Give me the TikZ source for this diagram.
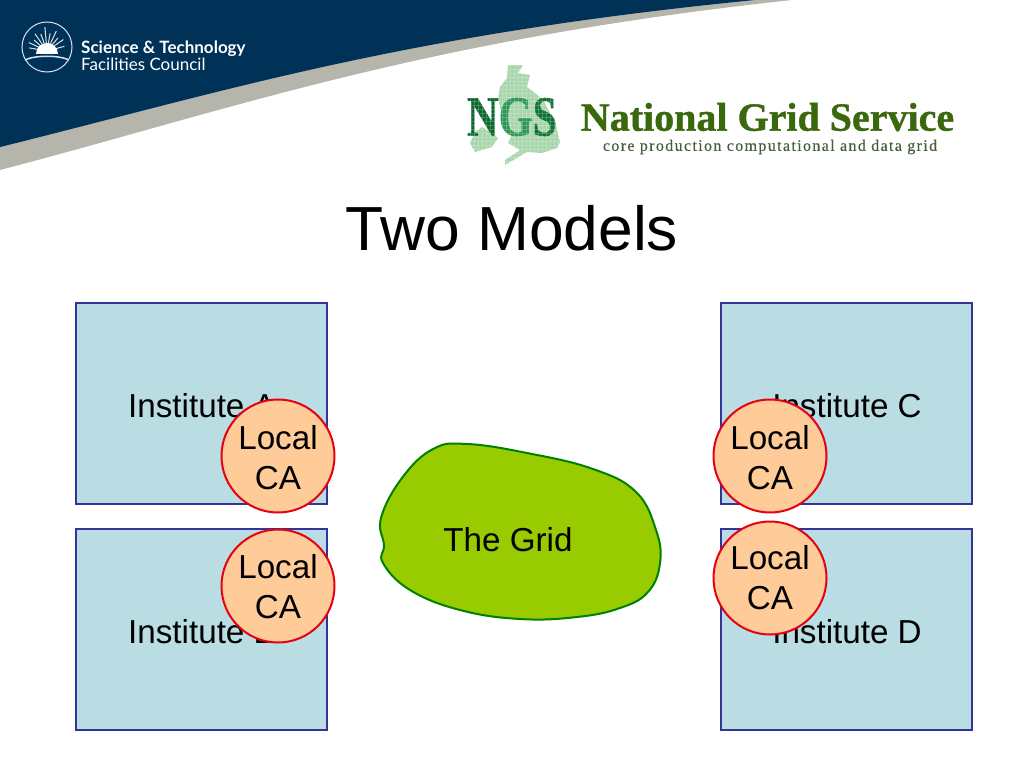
\documentclass[tikz,border=0pt]{standalone}
\usepackage{fontspec}
\setmainfont{Liberation Sans}
\newfontfamily\logofont{Lato}
\newfontfamily\ngsfont{Liberation Serif}
\definecolor{banner navy}{RGB}{0,50,88}
\definecolor{banner grey}{RGB}{181,181,171}
\definecolor{box fill}{RGB}{185,221,226}
\definecolor{box line}{RGB}{51,51,153}
\definecolor{ca fill}{RGB}{255,204,153}
\definecolor{ca line}{RGB}{230,0,20}
\definecolor{grid fill}{RGB}{153,204,0}
\definecolor{grid line}{RGB}{0,128,0}
\definecolor{map green}{RGB}{168,214,170}
\definecolor{ngs green}{RGB}{10,105,45}
\definecolor{ngs light}{RGB}{45,150,85}
\definecolor{title green}{RGB}{58,104,12}
\definecolor{sub green}{RGB}{72,92,62}
\definecolor{ray col}{RGB}{217,226,236}

\begin{document}
\begin{tikzpicture}[x=1pt,y=-1pt,
			institute/.style={draw=box line,fill=box fill,line width=2pt,minimum width=251pt,minimum height=201pt,inner sep=0pt},
			labeltext/.style={font=\fontsize{33.2}{40}\selectfont,align=center,inner sep=0pt},
			localca/.style={circle,draw=ca line,fill=ca fill,line width=2pt,minimum size=113pt,inner sep=0pt,font=\fontsize{33.2}{40}\selectfont,align=center},
			ray/.style={ray col,line width=1pt}
			]
		\useasboundingbox (0,0) rectangle (1024,768);
		% banner
		\fill[banner grey] (0,0) -- (0,170) .. controls (230,110) and (420,40) .. (792,0) -- cycle;
		\fill[banner navy] (0,0) -- (0,147) .. controls (230,90) and (400,35) .. (755,0) -- cycle;
		% STFC logo
		\node[circle,draw=ray col,line width=1pt,minimum size=50pt,inner sep=0pt] (sun) at (47,47) {};
		\foreach \ang/\len in {15/18,35/20,50/17,65/22,80/18,95/24,110/18,125/21,140/17,155/20,170/18}
			\draw[ray] (47,51) -- ++(-\ang:\len);
		\fill[white] (36,54) arc[start angle=180,end angle=360,radius=11] -- cycle;
		\draw[ray,line width=1.5pt] (25,60) .. controls (35,55) and (59,55) .. (69,60);
		\node[anchor=west,inner sep=0pt,text=white,align=left,font=\logofont\fontsize{17}{16.5}\selectfont] (stfc) at (81,56) {\textbf{Science \& Technology}\\Facilities Council};
		% NGS logo
		\fill[map green] (508,65) -- (523,65) -- (518,73) -- (530,75) -- (527,87) -- (535,93) -- (543,100) -- (555,122) -- (560,142) -- (557,148) -- (542,153) -- (527,152) -- (505,165) -- (505,160) -- (520,150) -- (508,143) -- (513,132) -- (502,115) -- (498,98) -- (500,87) -- (507,78) -- cycle;
		\fill[map green] (470,143) -- (475,132) -- (482,127) -- (492,133) -- (498,138) -- (492,147) -- (475,152) -- cycle;
		\node[inner sep=0pt,font=\ngsfont\bfseries\fontsize{46}{46}\selectfont] (ngs) at (512,117) {\scalebox{0.95}[1.23]{\addfontfeature{FakeBold=1}\textcolor{ngs green}{N}\textcolor{ngs light}{G}\textcolor{ngs green!80!ngs light}{S}}};
		\foreach \xx in {466,470,...,562} \draw[white,opacity=0.2,line width=0.5pt] (\xx,65) -- (\xx,165);
		\foreach \yy in {65,69,...,165} \draw[white,opacity=0.2,line width=0.5pt] (466,\yy) -- (562,\yy);
		\node[inner sep=0pt,text=title green,font=\ngsfont\bfseries\fontsize{40}{40}\selectfont] (ngstitle) at (767.5,117) {\addfontfeature{FakeBold=1}National Grid Service};
		\node[inner sep=0pt,text=sub green,font=\ngsfont\fontsize{16}{16}\selectfont] (ngssub) at (770,147) {\addfontfeature{LetterSpace=8.5,FakeBold=0.4}core production computational and data grid};
		% title
		\node[inner sep=0pt,font=\fontsize{62.3}{62}\selectfont] (title) at (512,228) {Two Models};
		% institutes
		\node[institute] (insta) at (201.5,403.5) {};
		\node[institute] (instb) at (201.5,629.5) {};
		\node[institute] (instc) at (846.5,403.5) {};
		\node[institute] (instd) at (846.5,629.5) {};
		\node[labeltext] (labela) at (202,406) {Institute A};
		\node[labeltext] (labelb) at (202,632) {Institute B};
		\node[labeltext] (labelc) at (847,406) {Institute C};
		\node[labeltext] (labeld) at (847,632) {Institute D};
		% the grid
		\draw[grid line,fill=grid fill,line width=2pt] plot[smooth cycle,tension=0.7] coordinates {(381,518) (402,478) (433,449) (467,444) (527,453) (593,469) (636,492) (656,530) (660,563) (648,592) (620,608) (577,617) (520,619) (460,610) (410,590) (383,563) (384,545)};
		\node[labeltext] (gridlabel) at (508,540) {The Grid};
		% local CAs
		\node[localca] (caa) at (278,456) {\rule{0pt}{28pt}Local\\CA};
		\node[localca] (cab) at (278,586) {\rule{0pt}{26pt}Local\\CA};
		\node[localca] (cac) at (770,456) {\rule{0pt}{28pt}Local\\CA};
		\node[localca] (cad) at (770,578) {Local\\CA};
\end{tikzpicture}
\end{document}
